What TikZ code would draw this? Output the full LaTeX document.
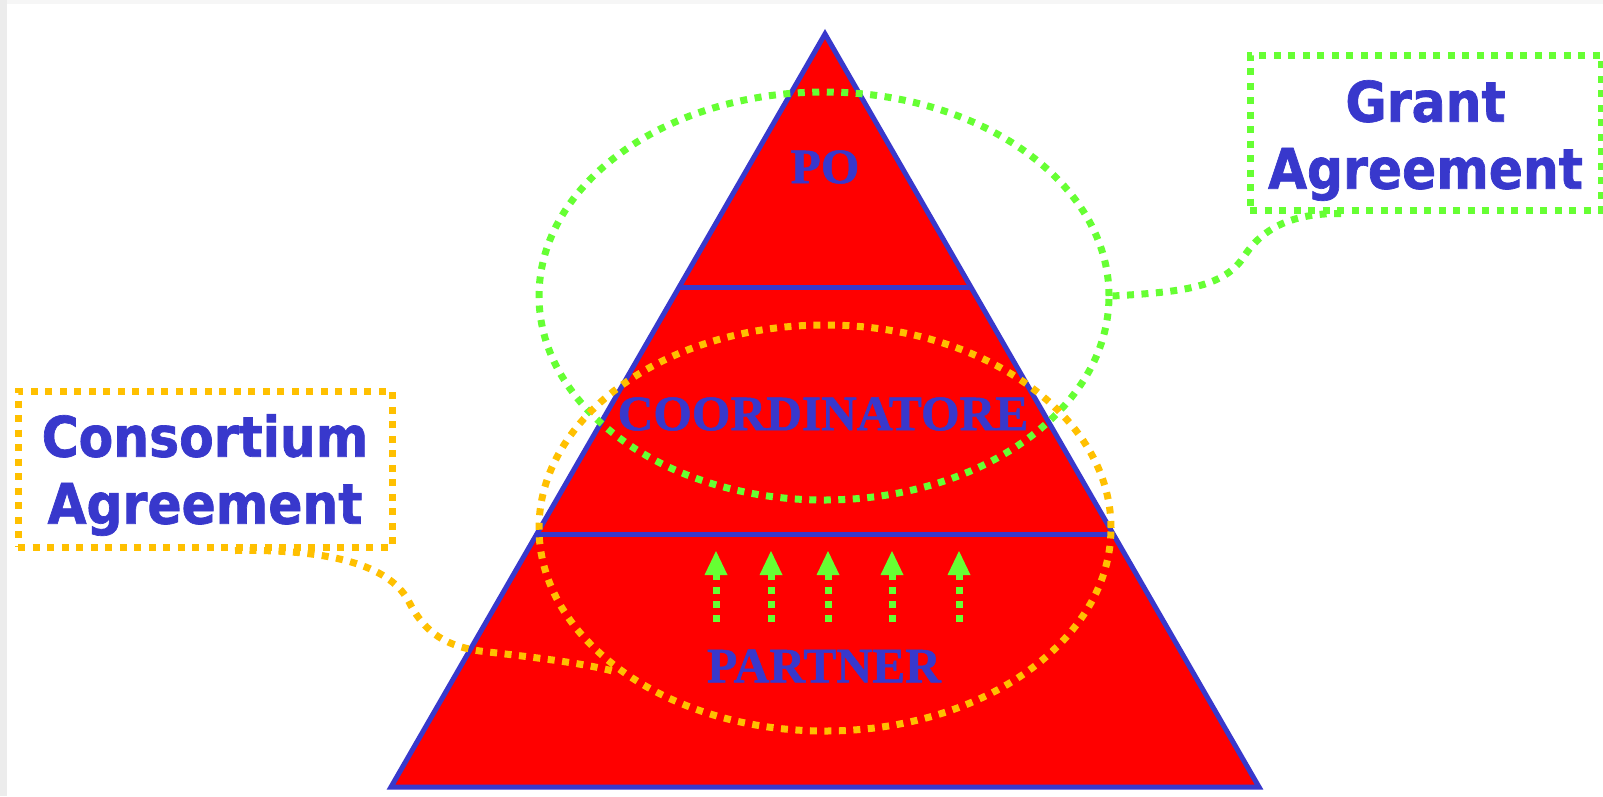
\documentclass[tikz,border=0pt]{standalone}
\usepackage{fontspec}
\usetikzlibrary{shapes.geometric,calc,arrows.meta}
\newfontfamily\serifbold{Liberation Serif Bold}[FakeBold=1]
\newfontfamily\labfont{DejaVu Sans Condensed Bold}[FakeBold=1.2]
\definecolor{pyrred}{RGB}{255,0,0}
\definecolor{pyrblue}{RGB}{56,56,204}
\definecolor{dotgreen}{RGB}{102,255,51}
\definecolor{dotorange}{RGB}{255,192,0}
\definecolor{edgegray}{RGB}{236,236,236}
\tikzset{
  dotline/.style={line width=7pt, dash pattern=on 7pt off 7.5pt, line cap=butt},
  greendots/.style={dotline, draw=dotgreen},
  orangedots/.style={dotline, draw=dotorange},
  levellabel/.style={font=\serifbold\fontsize{49.5}{50}\selectfont, text=pyrblue, inner sep=0pt},
  agreelabel/.style={font=\labfont\fontsize{56}{67}\selectfont, text=pyrblue, align=center, inner sep=0pt},
  agreebox/.style={minimum width=#1, line width=7pt, dash pattern=on 7pt off 7.5pt, inner sep=0pt},
  pyredge/.style={draw=pyrblue, line width=5pt, line join=miter},
  uparrow/.style={draw=dotgreen, line width=7pt, dash pattern=on 7.5pt off 6.5pt, line cap=butt},
}
\begin{document}
\begin{tikzpicture}[x=1pt,y=-1pt]
\useasboundingbox (0,0) rectangle (1603,796);
\fill[white] (0,0) rectangle (1603,796);
\fill[edgegray] (0,0) rectangle (7,796);
\fill[edgegray!50] (7,0) rectangle (1603,4);

% pyramid
\coordinate (apex) at (825,34);
\coordinate (bl) at (391,787);
\coordinate (br) at (1259,787);
\coordinate (l1a) at ($(apex)!0.3373!(bl)$);
\coordinate (l1b) at ($(apex)!0.3373!(br)$);
\coordinate (l2a) at ($(apex)!0.6653!(bl)$);
\coordinate (l2b) at ($(apex)!0.6653!(br)$);
\fill[pyrred] (apex) -- (bl) -- (br) -- cycle;
\draw[pyredge] (l1a) -- (l1b);
\draw[pyredge] (l2a) -- (l2b);
\draw[pyredge] (apex) -- (bl) -- (br) -- cycle;

% level labels
\node[levellabel] (po) at (825,167) {PO};
\node[levellabel] (coord) at (823,414) {COORDINATORE};
\node[levellabel] (partner) at (824,666) {PARTNER};

% upward arrows
\foreach \ax [count=\i] in {716,771,828,892,959}{
  \coordinate (ab\i) at (\ax,622);
  \coordinate (at\i) at (\ax,574);
  \coordinate (ah\i) at (\ax,551);
  \draw[uparrow] (ab\i) -- (at\i);
  \fill[dotgreen] (ah\i) -- ($(at\i)+(-11.5,1)$) -- ($(at\i)+(11.5,1)$) -- cycle;
}

% ellipses
\node[ellipse, greendots, minimum width=570pt, minimum height=408pt, inner sep=0pt] (ga) at (824,296) {};
\node[ellipse, orangedots, minimum width=572pt, minimum height=406pt, inner sep=0pt] (ca) at (825,528) {};

% agreement boxes
\node[draw=dotgreen, agreebox=351pt, minimum height=155pt] (grant) at (1425.5,132.5) {};
\node[agreelabel, yshift=-8pt] (granttext) at (grant.center) {Grant\\Agreement};
\node[draw=dotorange, agreebox=374pt, minimum height=156pt] (cons) at (205,469) {};
\node[agreelabel, yshift=-6pt] (constext) at (cons.center) {Consortium\\Agreement};

% leader connectors
\draw[greendots] (ga.east) .. controls (1180,292) and (1222,288) .. (1243,258)
  .. controls (1262,228) and (1292,213) .. ($(grant.south west)+(95,0)$);
\draw[orangedots] ($(cons.south)+(30,0)$) .. controls (330,549) and (388,565) .. (408,600)
  .. controls (422,628) and (440,645) .. (480,651)
  .. controls (540,658) and (590,664) .. (ca.215);
\end{tikzpicture}
\end{document}
